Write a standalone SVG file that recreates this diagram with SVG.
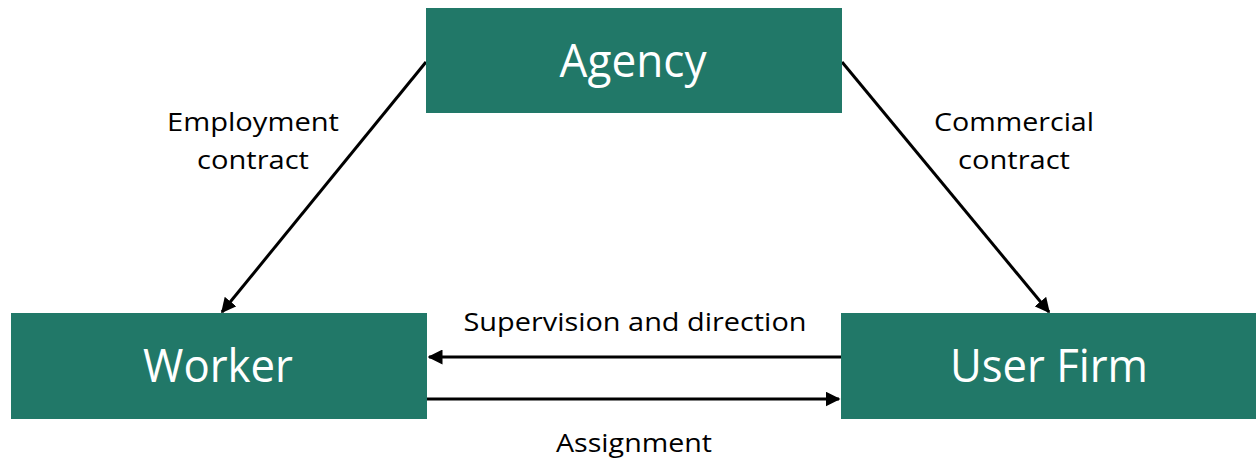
<svg xmlns="http://www.w3.org/2000/svg" width="1256" height="460" viewBox="0 0 1256 460">
  <defs>
    <style>
      .box { fill: #217868; }
      .node-label { font-family: "Open Sans", "Noto Sans", "Liberation Sans", sans-serif; font-size: 45px; fill: #ffffff; text-anchor: middle; }
      .edge-label { font-family: "Open Sans", "Noto Sans", "Liberation Sans", sans-serif; font-size: 25px; fill: #000000; text-anchor: middle; }
      .link { stroke: #000000; stroke-width: 3; fill: none; marker-end: url(#arrow); }
    </style>
    <marker id="arrow" viewBox="0 0 10 10" refX="9" refY="5" markerWidth="5" markerHeight="5" orient="auto" markerUnits="strokeWidth">
      <path d="M0,0 L10,5 L0,10 z" fill="#000000"/>
    </marker>
  </defs>

  <rect width="1256" height="460" fill="#ffffff"/>

  <g id="connectors">
    <line class="link" x1="426" y1="62" x2="222" y2="312"/>
    <line class="link" x1="842" y1="62" x2="1049" y2="312"/>
    <line class="link" x1="841" y1="357" x2="429" y2="357"/>
    <line class="link" x1="427" y1="399" x2="839" y2="399"/>
    <text class="edge-label" x="253" y="131" textLength="172" lengthAdjust="spacingAndGlyphs">Employment</text>
    <text class="edge-label" x="253" y="169" textLength="112" lengthAdjust="spacingAndGlyphs">contract</text>
    <text class="edge-label" x="1014" y="131" textLength="160" lengthAdjust="spacingAndGlyphs">Commercial</text>
    <text class="edge-label" x="1014" y="169" textLength="112" lengthAdjust="spacingAndGlyphs">contract</text>
    <text class="edge-label" x="635" y="331" textLength="343" lengthAdjust="spacingAndGlyphs">Supervision and direction</text>
    <text class="edge-label" x="634" y="452" textLength="156" lengthAdjust="spacingAndGlyphs">Assignment</text>
  </g>

  <g id="agency">
    <rect class="box" x="426" y="8" width="416" height="105"/>
    <text class="node-label" x="633" y="77" textLength="147" lengthAdjust="spacingAndGlyphs">Agency</text>
  </g>

  <g id="worker">
    <rect class="box" x="11" y="313" width="416" height="106"/>
    <text class="node-label" x="218" y="382" textLength="150" lengthAdjust="spacingAndGlyphs">Worker</text>
  </g>

  <g id="user-firm">
    <rect class="box" x="841" y="313" width="415" height="106"/>
    <text class="node-label" x="1049" y="382" textLength="198" lengthAdjust="spacingAndGlyphs">User Firm</text>
  </g>
</svg>
